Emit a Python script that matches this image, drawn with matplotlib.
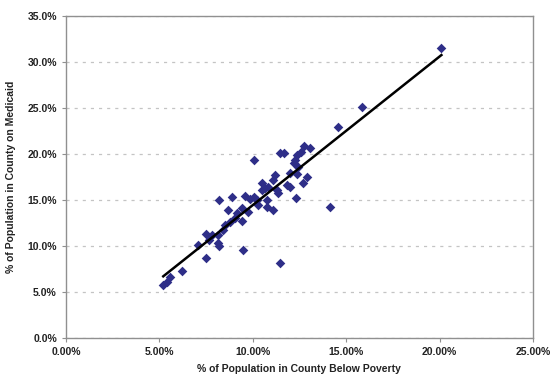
import numpy as np
import matplotlib.pyplot as plt
from matplotlib.ticker import FuncFormatter

# % below poverty (x) and % on Medicaid (y)
poverty = [14.58, 10.08, 11.46, 11.69, 12.76, 13.06, 12.56, 12.35, 12.26, 12.20,
           12.44, 11.99, 12.38, 12.88, 12.70, 11.19, 11.10, 10.48, 10.65, 10.83,
           10.48, 11.28, 11.37, 11.81, 11.99, 12.29, 14.13, 11.46, 9.49, 8.21,
           8.87, 9.58, 9.85, 10.08, 10.21, 10.74, 10.78, 11.10, 10.30, 9.76,
           9.40, 8.69, 9.14, 9.05, 9.40, 8.78, 8.51, 8.39, 8.15, 7.48,
           7.80, 7.67, 7.08, 8.15, 8.21, 7.48, 6.19, 5.57, 5.21, 5.39,
           20.10, 15.86]
medicaid = [22.97, 19.35, 20.08, 20.14, 20.90, 20.60, 20.25, 19.90, 19.35, 18.99,
            18.62, 17.90, 17.83, 17.53, 16.88, 17.72, 17.17, 16.80, 16.27, 16.38,
            16.09, 16.09, 15.73, 16.63, 16.45, 15.25, 14.20, 8.12, 9.57, 15.00,
            15.29, 15.43, 15.10, 15.36, 15.00, 15.00, 14.20, 13.90, 14.46, 13.73,
            14.10, 13.90, 13.55, 13.00, 12.75, 12.64, 12.28, 11.74, 11.20, 11.30,
            11.20, 10.65, 10.10, 10.29, 10.00, 8.66, 7.28, 6.66, 5.76, 6.12,
            31.50, 25.07]

x = np.array(poverty) / 100
y = np.array(medicaid) / 100

fig = plt.figure(figsize=(5.54, 3.79), dpi=100)
ax = fig.add_axes([0.119, 0.108, 0.843, 0.85])

ax.scatter(x, y, marker='D', s=24, color='#2e2e88', linewidths=0, zorder=3)

# linear trendline over the data range
k, b = np.polyfit(x, y, 1)
xs = np.array([x.min(), x.max()])
ax.plot(xs, k * xs + b, color='black', lw=1.8, zorder=4)

ax.set_xlim(0, 0.25)
ax.set_ylim(0, 0.35)
ax.set_xticks(np.arange(0, 0.2501, 0.05))
ax.set_yticks(np.arange(0, 0.3501, 0.05))
ax.xaxis.set_major_formatter(FuncFormatter(lambda v, p: f"{v*100:.2f}%"))
ax.yaxis.set_major_formatter(FuncFormatter(lambda v, p: f"{v*100:.1f}%"))
ax.grid(axis='y', color='#c4c4c4', linestyle=(0, (2.5, 4)), lw=0.9)
ax.set_axisbelow(True)

for s in ax.spines.values():
    s.set_color('#909090')
    s.set_linewidth(1.0)
ax.tick_params(direction='out', length=3, color='#909090', labelsize=7.5)
for lab in ax.get_xticklabels() + ax.get_yticklabels():
    lab.set_fontfamily('Liberation Sans')
    lab.set_fontweight('bold')
    lab.set_color('#222222')

ax.set_xlabel("% of Population in County Below Poverty", fontsize=7.5,
              family='Liberation Sans', fontweight='bold', color='#222222', labelpad=5)
ax.set_ylabel("% of Population in County on Medicaid", fontsize=7.5,
              family='Liberation Sans', fontweight='bold', color='#222222', labelpad=8)

fig.savefig("out.png", dpi=100)
